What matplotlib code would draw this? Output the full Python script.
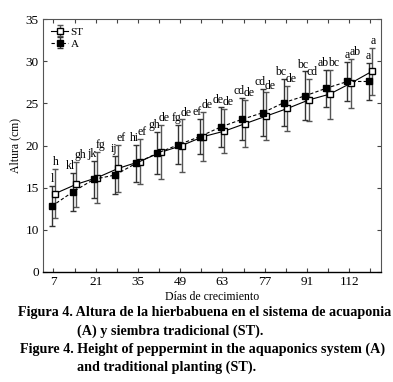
import numpy as np
import matplotlib
matplotlib.use("Agg")
import matplotlib.pyplot as plt

plt.rcParams["font.family"] = ["Liberation Serif", "DejaVu Serif"]

# days of growth (16 samplings)
days = [7, 14, 21, 28, 35, 42, 49, 56, 63, 70, 77, 84, 91, 98, 105, 112]
tick_labels = ["7", "", "21", "", "35", "", "49", "", "63", "", "77", "", "91", "", "112", ""]

# traditional planting (ST)
st_mean = [14.3, 15.4, 16.2, 17.3, 18.1, 19.2, 20.0, 21.05, 21.7, 22.6, 23.5, 24.4, 25.4, 26.1, 27.4, 28.8]
st_sd = [2.9, 2.7, 3.0, 2.8, 2.7, 3.2, 3.1, 2.9, 2.6, 2.8, 2.8, 2.7, 2.5, 2.9, 2.9, 2.8]
st_let = ["h", "gh", "fg", "ef", "ef", "de", "de", "de", "de", "de", "de", "de", "cd", "bc", "ab", "a"]

# aquaponics (A)
a_mean = [12.8, 14.5, 16.0, 16.5, 17.9, 19.1, 20.1, 21.05, 22.2, 23.1, 23.9, 25.1, 25.9, 26.8, 27.6, 27.6]
a_sd = [2.4, 2.3, 2.2, 2.3, 2.2, 2.5, 2.3, 2.1, 2.4, 2.5, 2.8, 2.8, 2.9, 2.2, 2.3, 2.2]
a_let = ["l", "kl", "jk", "ij", "hi", "gh", "fg", "ef", "de", "cd", "cd", "bc", "bc", "ab", "a", "a"]

# y axis is broken: bottom tick is labelled 0
y_ticks = [5, 10, 15, 20, 25, 30, 35]
y_labels = ["0", "10", "15", "20", "25", "30", "35"]

pos = np.arange(len(days))
xa = pos - 0.08
xs = pos + 0.08

fig = plt.figure(figsize=(3.93, 3.82), dpi=100)
ax = fig.add_axes([0.109, 0.288, 0.86, 0.662])

ax.errorbar(xs, st_mean, yerr=st_sd, fmt="s-", color="black", lw=0.8,
            mfc="white", mec="black", ms=5, ecolor="#555555", elinewidth=1,
            capsize=2, capthick=1, label="ST", zorder=3)
ax.errorbar(xa, a_mean, yerr=a_sd, fmt="s", ls=(0, (3, 2)), color="black", lw=0.8,
            mfc="black", mec="black", ms=5, ecolor="#333333", elinewidth=1,
            capsize=2, capthick=1, label="A", zorder=3)

for i in range(len(days)):
    ax.text(xa[i] + 0.12, a_mean[i] + a_sd[i] + 0.1, a_let[i], ha="right",
            va="bottom", fontsize=8.5)
    ax.text(xs[i] - 0.08, st_mean[i] + st_sd[i] + 0.1, st_let[i], ha="left",
            va="bottom", fontsize=8.5)

ax.set_xlim(-0.5, 15.5)
ax.set_ylim(5, 35)
ax.set_xticks(pos)
ax.set_xticklabels(tick_labels, fontsize=9.5)
ax.set_yticks(y_ticks)
ax.set_yticklabels(y_labels, fontsize=9.5)
ax.tick_params(direction="in", length=3, width=0.8, top=True, right=True,
               color="#444444", pad=3)
for s in ["left", "top", "right"]:
    ax.spines[s].set_color("#555555")
    ax.spines[s].set_linewidth(0.8)
ax.spines["bottom"].set_linewidth(1)

ax.set_xlabel("Días de crecimiento", fontsize=8.5, labelpad=2)
ax.set_ylabel("Altura (cm)", fontsize=8.5, labelpad=3)

ax.legend(loc="upper left", frameon=False, fontsize=8, handlelength=1.6,
          handletextpad=0.2, borderaxespad=0.3, labelspacing=0.2)

cap = dict(fontsize=10.2, fontweight="bold")
fig.text(0.045, 0.172, "Figura 4. Altura de la hierbabuena en el sistema de acuaponia", **cap)
fig.text(0.195, 0.124, "(A) y siembra tradicional (ST).", **cap)
fig.text(0.050, 0.077, "Figure 4. Height of peppermint in the aquaponics system (A)", **cap)
fig.text(0.197, 0.029, "and traditional planting (ST).", **cap)

fig.savefig("out.png", dpi=100)
